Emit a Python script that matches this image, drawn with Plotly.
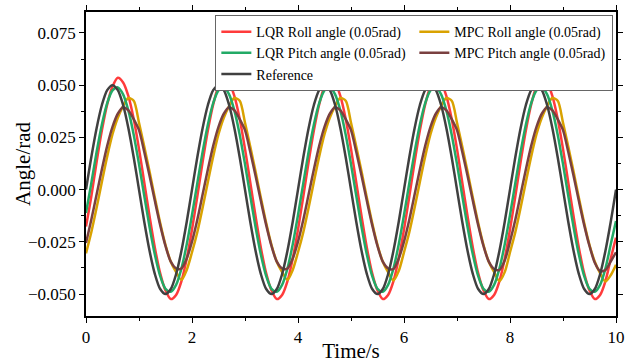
import plotly.graph_objects as go

time_s = [round(i * 0.1, 1) for i in range(101)]

reference = [
    0.0000, 0.0155, 0.0294, 0.0405, 0.0476, 0.0500, 0.0476, 0.0405, 0.0294, 0.0155,
    0.0000, -0.0155, -0.0294, -0.0405, -0.0476, -0.0500, -0.0476, -0.0405, -0.0294, -0.0155,
    0.0000, 0.0155, 0.0294, 0.0405, 0.0476, 0.0500, 0.0476, 0.0405, 0.0294, 0.0155,
    0.0000, -0.0155, -0.0294, -0.0405, -0.0476, -0.0500, -0.0476, -0.0405, -0.0294, -0.0155,
    0.0000, 0.0155, 0.0294, 0.0405, 0.0476, 0.0500, 0.0476, 0.0405, 0.0294, 0.0155,
    0.0000, -0.0155, -0.0294, -0.0405, -0.0476, -0.0500, -0.0476, -0.0405, -0.0294, -0.0155,
    0.0000, 0.0155, 0.0294, 0.0405, 0.0476, 0.0500, 0.0476, 0.0405, 0.0294, 0.0155,
    0.0000, -0.0155, -0.0294, -0.0405, -0.0476, -0.0500, -0.0476, -0.0405, -0.0294, -0.0155,
    0.0000, 0.0155, 0.0294, 0.0405, 0.0476, 0.0500, 0.0476, 0.0405, 0.0294, 0.0155,
    0.0000, -0.0155, -0.0294, -0.0405, -0.0476, -0.0500, -0.0476, -0.0405, -0.0294, -0.0155,
    0.0000,
]

lqr_pitch = [
    -0.0112, 0.0031, 0.0180, 0.0312, 0.0414, 0.0475, 0.0489, 0.0456, 0.0378, 0.0263,
    0.0122, -0.0031, -0.0180, -0.0312, -0.0414, -0.0475, -0.0489, -0.0456, -0.0378, -0.0263,
    -0.0122, 0.0031, 0.0180, 0.0312, 0.0414, 0.0475, 0.0489, 0.0456, 0.0378, 0.0263,
    0.0122, -0.0031, -0.0180, -0.0312, -0.0414, -0.0475, -0.0489, -0.0456, -0.0378, -0.0263,
    -0.0122, 0.0031, 0.0180, 0.0312, 0.0414, 0.0475, 0.0489, 0.0456, 0.0378, 0.0263,
    0.0122, -0.0031, -0.0180, -0.0312, -0.0414, -0.0475, -0.0489, -0.0456, -0.0378, -0.0263,
    -0.0122, 0.0031, 0.0180, 0.0312, 0.0414, 0.0475, 0.0489, 0.0456, 0.0378, 0.0263,
    0.0122, -0.0031, -0.0180, -0.0312, -0.0414, -0.0475, -0.0489, -0.0456, -0.0378, -0.0263,
    -0.0122, 0.0031, 0.0180, 0.0312, 0.0414, 0.0475, 0.0489, 0.0456, 0.0378, 0.0263,
    0.0122, -0.0031, -0.0180, -0.0312, -0.0414, -0.0475, -0.0489, -0.0456, -0.0378, -0.0263,
    -0.0150,
]

lqr_roll = [
    -0.0177, -0.0033, 0.0132, 0.0284, 0.0408, 0.0493, 0.0535, 0.0513, 0.0447, 0.0338,
    0.0195, 0.0033, -0.0129, -0.0279, -0.0401, -0.0483, -0.0524, -0.0504, -0.0439, -0.0331,
    -0.0191, -0.0033, 0.0132, 0.0284, 0.0408, 0.0493, 0.0535, 0.0513, 0.0447, 0.0338,
    0.0195, 0.0033, -0.0129, -0.0279, -0.0401, -0.0483, -0.0524, -0.0504, -0.0439, -0.0331,
    -0.0191, -0.0033, 0.0132, 0.0284, 0.0408, 0.0493, 0.0535, 0.0513, 0.0447, 0.0338,
    0.0195, 0.0033, -0.0129, -0.0279, -0.0401, -0.0483, -0.0524, -0.0504, -0.0439, -0.0331,
    -0.0191, -0.0033, 0.0132, 0.0284, 0.0408, 0.0493, 0.0535, 0.0513, 0.0447, 0.0338,
    0.0195, 0.0033, -0.0129, -0.0279, -0.0401, -0.0483, -0.0524, -0.0504, -0.0439, -0.0331,
    -0.0191, -0.0033, 0.0132, 0.0284, 0.0408, 0.0493, 0.0535, 0.0513, 0.0447, 0.0338,
    0.0195, 0.0033, -0.0129, -0.0279, -0.0401, -0.0483, -0.0524, -0.0504, -0.0439, -0.0331,
    -0.0230,
]

mpc_pitch = [
    -0.0256, -0.0144, -0.0024, 0.0097, 0.0209, 0.0300, 0.0363, 0.0394, 0.0379, 0.0337,
    0.0285, 0.0180, 0.0065, -0.0055, -0.0170, -0.0270, -0.0345, -0.0377, -0.0378, -0.0330,
    -0.0249, -0.0144, -0.0024, 0.0097, 0.0209, 0.0300, 0.0363, 0.0394, 0.0379, 0.0337,
    0.0285, 0.0180, 0.0065, -0.0055, -0.0170, -0.0270, -0.0345, -0.0377, -0.0378, -0.0330,
    -0.0249, -0.0144, -0.0024, 0.0097, 0.0209, 0.0300, 0.0363, 0.0394, 0.0379, 0.0337,
    0.0285, 0.0180, 0.0065, -0.0055, -0.0170, -0.0270, -0.0345, -0.0377, -0.0380, -0.0330,
    -0.0249, -0.0144, -0.0024, 0.0097, 0.0209, 0.0300, 0.0363, 0.0394, 0.0379, 0.0337,
    0.0285, 0.0180, 0.0065, -0.0055, -0.0170, -0.0270, -0.0345, -0.0380, -0.0385, -0.0340,
    -0.0249, -0.0144, -0.0024, 0.0097, 0.0209, 0.0300, 0.0363, 0.0394, 0.0379, 0.0337,
    0.0285, 0.0180, 0.0065, -0.0055, -0.0170, -0.0270, -0.0350, -0.0390, -0.0385, -0.0345,
    -0.0300,
]

mpc_roll = [
    -0.0305, -0.0204, -0.0087, 0.0038, 0.0159, 0.0265, 0.0344, 0.0400, 0.0438, 0.0425,
    0.0320, 0.0205, 0.0085, -0.0040, -0.0160, -0.0265, -0.0345, -0.0395, -0.0432, -0.0385,
    -0.0300, -0.0204, -0.0087, 0.0038, 0.0159, 0.0265, 0.0344, 0.0400, 0.0438, 0.0425,
    0.0320, 0.0205, 0.0085, -0.0040, -0.0160, -0.0265, -0.0345, -0.0395, -0.0432, -0.0385,
    -0.0300, -0.0204, -0.0087, 0.0038, 0.0159, 0.0265, 0.0344, 0.0400, 0.0438, 0.0425,
    0.0320, 0.0205, 0.0085, -0.0040, -0.0160, -0.0265, -0.0345, -0.0395, -0.0435, -0.0390,
    -0.0300, -0.0204, -0.0087, 0.0038, 0.0159, 0.0265, 0.0344, 0.0400, 0.0438, 0.0425,
    0.0320, 0.0205, 0.0085, -0.0040, -0.0160, -0.0265, -0.0345, -0.0395, -0.0438, -0.0395,
    -0.0300, -0.0204, -0.0087, 0.0038, 0.0159, 0.0265, 0.0344, 0.0400, 0.0438, 0.0425,
    0.0320, 0.0205, 0.0085, -0.0040, -0.0160, -0.0265, -0.0345, -0.0400, -0.0440, -0.0410,
    -0.0360,
]

series = [
    ("LQR Roll angle (0.05rad)", lqr_roll, "#FF3B3B"),
    ("MPC Roll angle (0.05rad)", mpc_roll, "#D9A200"),
    ("LQR Pitch angle (0.05rad)", lqr_pitch, "#22AA66"),
    ("MPC Pitch angle (0.05rad)", mpc_pitch, "#7A4040"),
    ("Reference", reference, "#404040"),
]

fig = go.Figure()
for name, vals, color in series:
    fig.add_trace(go.Scatter(
        x=time_s, y=vals, mode="lines", name=name,
        line=dict(color=color, width=2.5, shape="spline", smoothing=0.8),
    ))

font_family = "Liberation Serif, Times New Roman, serif"

fig.update_layout(
    width=633, height=363,
    margin=dict(l=86, r=17, t=12, b=47, autoexpand=False),
    paper_bgcolor="white", plot_bgcolor="white",
    font=dict(family=font_family, size=17, color="black"),
    showlegend=True,
    legend=dict(
        orientation="h", x=0.995, xanchor="right", y=0.99, yanchor="top",
        bgcolor="white", bordercolor="#666666", borderwidth=1,
        font=dict(family=font_family, size=14, color="black"),
        entrywidth=153, tracegroupgap=0, itemwidth=30,
    ),
    annotations=[dict(
        text="Angle/rad", textangle=-90, xref="paper", yref="paper",
        x=-0.119, y=0.5, xanchor="center", yanchor="middle", showarrow=False,
        font=dict(family=font_family, size=21, color="black"),
    )],
)

fig.update_xaxes(
    range=[0, 10], dtick=2, tick0=0, automargin=False,
    showline=True, linecolor="black", linewidth=1.5, mirror="ticks",
    ticks="outside", ticklen=5, tickwidth=1.2, tickcolor="black",
    minor=dict(dtick=1, ticks="outside", ticklen=3, tickcolor="black", showgrid=False),
    showgrid=False, zeroline=False,
    title=dict(text="Time/s", font=dict(size=21), standoff=0),
    tickfont=dict(size=17),
)
fig.update_yaxes(
    range=[-0.0605, 0.085], dtick=0.025, tick0=0, tickformat=".3f", automargin=False,
    showline=True, linecolor="black", linewidth=1.5, mirror="ticks",
    ticks="outside", ticklen=5, tickwidth=1.2, tickcolor="black",
    minor=dict(dtick=0.0125, ticks="outside", ticklen=3, tickcolor="black", showgrid=False),
    showgrid=False, zeroline=False,
    tickfont=dict(size=17),
)

fig.write_html("out.html")
